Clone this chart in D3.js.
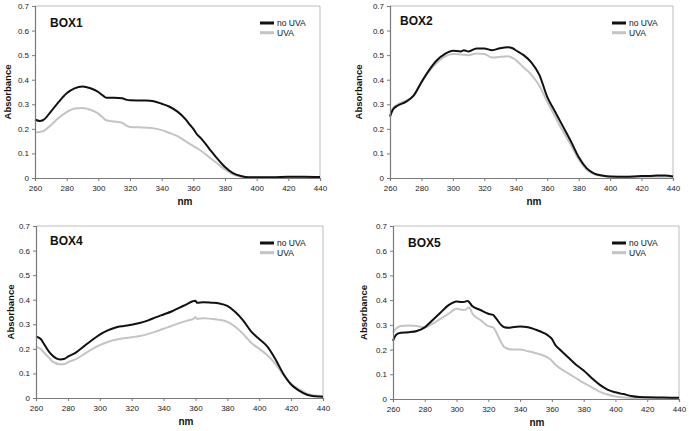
<!DOCTYPE html>
<html><head><meta charset="utf-8">
<script src="https://cdn.jsdelivr.net/npm/d3@7/dist/d3.min.js"></script>
<style>body{margin:0;background:#fff;}svg{display:block;font-family:"Liberation Sans",Arial,sans-serif;}</style>
</head><body>
<svg id="c" width="689" height="431"></svg>
<script>
const xTicks = [260, 280, 300, 320, 340, 360, 380, 400, 420, 440];
const yTicks = [0, 0.1, 0.2, 0.3, 0.4, 0.5, 0.6, 0.7];
const seriesNames = ["no UVA", "UVA"];
const panelTitles = ["BOX1", "BOX2", "BOX4", "BOX5"];

const box1NoUvaNm  = [260,263,265,270,275,280,285,290,295,300,303,305,310,315,318,320,330,335,340,345,350,355,358,360,362,365,370,375,380,385,390,395,400,410,420,430,440];
const box1NoUvaAbs = [0.238,0.232,0.235,0.27,0.31,0.345,0.365,0.372,0.365,0.35,0.335,0.327,0.327,0.325,0.318,0.316,0.315,0.312,0.302,0.29,0.27,0.24,0.215,0.2,0.18,0.16,0.12,0.08,0.045,0.02,0.008,0.003,0.003,0.003,0.005,0.005,0.004];
const box1UvaNm  = [260,265,270,275,280,285,290,295,300,303,305,310,315,318,320,330,335,340,345,350,355,360,365,370,375,380,385,390,395,400,420,440];
const box1UvaAbs = [0.185,0.19,0.215,0.245,0.268,0.283,0.285,0.278,0.262,0.245,0.235,0.23,0.225,0.212,0.208,0.205,0.202,0.195,0.183,0.17,0.15,0.13,0.11,0.085,0.06,0.035,0.015,0.006,0.003,0.002,0.002,0.002];

const box2NoUvaNm  = [260,262,265,270,275,280,285,290,295,300,305,307,310,315,320,325,330,335,338,340,345,350,355,360,365,370,375,380,385,390,395,400,410,420,425,430,435,440];
const box2NoUvaAbs = [0.25,0.28,0.295,0.31,0.335,0.39,0.44,0.48,0.505,0.518,0.515,0.52,0.515,0.527,0.527,0.52,0.528,0.532,0.528,0.52,0.5,0.47,0.42,0.33,0.27,0.21,0.15,0.085,0.04,0.018,0.01,0.006,0.005,0.008,0.008,0.01,0.01,0.006];
const box2UvaNm  = [260,262,265,270,275,280,285,290,295,300,305,310,315,320,325,330,335,340,345,350,355,360,365,370,375,380,385,390,395,400,420,440];
const box2UvaAbs = [0.255,0.285,0.3,0.315,0.335,0.39,0.435,0.47,0.495,0.505,0.503,0.5,0.507,0.505,0.49,0.493,0.495,0.48,0.45,0.42,0.375,0.31,0.25,0.19,0.135,0.075,0.035,0.015,0.008,0.005,0.005,0.005];

const box4NoUvaNm  = [260,263,265,268,270,273,275,278,280,285,290,295,300,305,310,315,320,325,330,335,340,345,350,355,358,360,361,365,370,375,380,385,390,395,400,405,410,415,420,425,430,435,440];
const box4NoUvaAbs = [0.25,0.24,0.22,0.19,0.175,0.16,0.157,0.16,0.168,0.185,0.21,0.235,0.258,0.275,0.287,0.293,0.298,0.305,0.315,0.328,0.34,0.352,0.368,0.383,0.393,0.396,0.388,0.39,0.388,0.385,0.375,0.35,0.315,0.27,0.24,0.21,0.16,0.1,0.055,0.03,0.013,0.007,0.005];
const box4UvaNm  = [260,263,265,268,270,275,278,280,285,290,295,300,305,310,315,320,325,330,335,340,345,350,355,359,360,361,365,370,375,380,385,390,395,400,405,410,415,420,425,430,435,440];
const box4UvaAbs = [0.208,0.2,0.185,0.165,0.15,0.137,0.138,0.145,0.158,0.178,0.198,0.215,0.228,0.237,0.243,0.247,0.252,0.26,0.27,0.282,0.293,0.305,0.315,0.323,0.33,0.322,0.325,0.322,0.318,0.31,0.29,0.26,0.225,0.2,0.175,0.14,0.095,0.058,0.035,0.018,0.01,0.008];

const box5NoUvaNm  = [260,262,265,270,275,280,285,290,295,300,303,305,307,310,315,320,323,325,328,330,333,335,340,345,350,355,358,360,362,365,370,375,380,385,390,395,400,405,410,415,420,430,440];
const box5NoUvaAbs = [0.235,0.26,0.268,0.27,0.275,0.29,0.32,0.35,0.38,0.395,0.392,0.393,0.397,0.375,0.36,0.345,0.34,0.325,0.3,0.29,0.288,0.29,0.293,0.29,0.28,0.267,0.255,0.243,0.22,0.2,0.17,0.14,0.115,0.085,0.058,0.038,0.027,0.02,0.012,0.008,0.007,0.006,0.005];
const box5UvaNm  = [260,262,265,270,275,280,285,290,295,300,305,308,310,315,320,323,325,328,330,335,340,345,350,355,358,360,362,365,370,375,380,385,390,395,400,405,410,420,440];
const box5UvaAbs = [0.27,0.285,0.295,0.297,0.295,0.29,0.305,0.325,0.345,0.365,0.36,0.37,0.345,0.32,0.295,0.29,0.27,0.23,0.21,0.2,0.2,0.193,0.185,0.175,0.165,0.155,0.14,0.125,0.105,0.085,0.065,0.048,0.03,0.018,0.01,0.006,0.004,0.004,0.004];

const panels = [
  {title: panelTitles[0], series: [[box1NoUvaNm, box1NoUvaAbs], [box1UvaNm, box1UvaAbs]],
   box: {l: 35, r: 320, t: 6, b: 178}, titlePos: [50, 26.5], yLab: 7, xLab: 185, leg: [260, 23]},
  {title: panelTitles[1], series: [[box2NoUvaNm, box2NoUvaAbs], [box2UvaNm, box2UvaAbs]],
   box: {l: 390, r: 673, t: 6, b: 178}, titlePos: [400, 25], yLab: 358, xLab: 534, leg: [612, 23]},
  {title: panelTitles[2], series: [[box4NoUvaNm, box4NoUvaAbs], [box4UvaNm, box4UvaAbs]],
   box: {l: 36, r: 323, t: 226, b: 398}, titlePos: [50, 245], yLab: 10, xLab: 186, leg: [260, 243]},
  {title: panelTitles[3], series: [[box5NoUvaNm, box5NoUvaAbs], [box5UvaNm, box5UvaAbs]],
   box: {l: 393, r: 679, t: 226, b: 399}, titlePos: [408, 247], yLab: 363, xLab: 537, leg: [612, 243]}
];
const colors = ["#111111", "#c4c4c4"];
const svg = d3.select("#c");

panels.forEach(p => {
  const B = p.box;
  const x = d3.scaleLinear().domain([260, 440]).range([B.l, B.r]);
  const y = d3.scaleLinear().domain([0, 0.7]).range([B.b, B.t]);
  const g = svg.append("g");
  // frame top/right
  g.append("path").attr("d", `M${B.l},${B.t}H${B.r}V${B.b}`).attr("fill", "none").attr("stroke", "#bdbdbd").attr("stroke-width", 1);

  const line = d3.line().x(d => x(d[0])).y(d => y(d[1])).curve(d3.curveMonotoneX);
  // draw UVA (gray) first then black
  [1, 0].forEach(i => {
    const [nm, ab] = p.series[i];
    const pts = nm.map((v, k) => [v, ab[k]]);
    g.append("path").datum(pts).attr("d", line).attr("fill", "none")
      .attr("stroke", colors[i]).attr("stroke-width", 2).attr("stroke-linejoin", "round");
  });

  const ya = g.append("g").attr("transform", `translate(${B.l},0)`)
    .call(d3.axisLeft(y).tickValues(yTicks).tickSize(3).tickPadding(3).tickFormat(d => d === 0 ? "0" : d3.format(".1f")(d)));
  const xa = g.append("g").attr("transform", `translate(0,${B.b})`)
    .call(d3.axisBottom(x).tickValues(xTicks).tickSize(3).tickPadding(4).tickFormat(d3.format("d")));
  [ya, xa].forEach(a => {
    a.select(".domain").attr("stroke", "#7a7a7a").attr("stroke-width", 1.2);
    a.selectAll(".tick line").attr("stroke", "#7a7a7a");
    a.selectAll(".tick text").attr("fill", "#222").style("font-size", "8px").style("font-family", "'Liberation Sans',Arial,sans-serif");
  });

  g.append("text").attr("transform", `translate(${p.yLab + 3.5},${(B.t + B.b) / 2}) rotate(-90)`)
    .attr("text-anchor", "middle").style("font-size", "9.5px").style("font-weight", "bold").attr("fill", "#111").text("Absorbance");
  g.append("text").attr("x", p.xLab).attr("y", B.b + 27).attr("text-anchor", "middle")
    .style("font-size", "10px").style("font-weight", "bold").attr("fill", "#111").text("nm");
  g.append("text").attr("x", p.titlePos[0]).attr("y", p.titlePos[1])
    .style("font-size", "12px").style("font-weight", "bold").attr("fill", "#111").text(p.title);

  seriesNames.forEach((s, i) => {
    const ly = p.leg[1] + i * 9.7;
    g.append("line").attr("x1", p.leg[0]).attr("x2", p.leg[0] + 14).attr("y1", ly).attr("y2", ly)
      .attr("stroke", colors[i]).attr("stroke-width", 3);
    g.append("text").attr("x", p.leg[0] + 17).attr("y", ly + 3.2).style("font-size", "8.5px").attr("fill", "#111").text(s);
  });
});
</script>
</body></html>
